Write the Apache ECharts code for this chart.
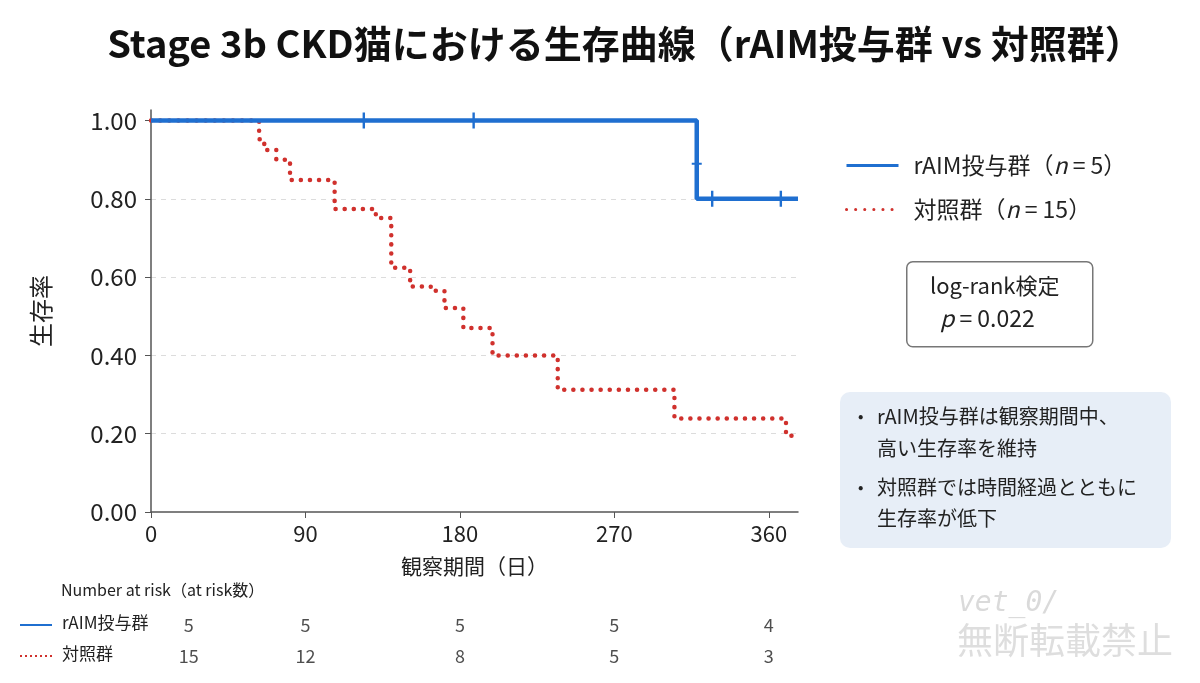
<!DOCTYPE html>
<html>
<head>
<meta charset="utf-8">
<script src="https://cdn.jsdelivr.net/npm/echarts@6/dist/echarts.min.js"></script>
<style>
  html, body { margin: 0; padding: 0; background: #fff; }
  #main { width: 1200px; height: 683px; }
</style>
</head>
<body>
<div id="main"></div>
<script>
// Kaplan-Meier curves (day, survival after that day)
var raimDays = [0, 318, 377];
var raimSurv = [1.0, 0.80, 0.80];
var raimCensorDays = [124, 188, 318, 327, 367];
var raimCensorSurv = [1.0, 1.0, 0.89, 0.80, 0.80];

var ctrlDays = [0, 63, 66, 73, 81, 107, 131, 140, 151, 163, 171, 182, 199, 237, 305, 370, 376];
var ctrlSurv = [1.0, 0.952, 0.925, 0.900, 0.848, 0.774, 0.751, 0.624, 0.576, 0.565, 0.521, 0.470, 0.400, 0.312, 0.239, 0.195, 0.195];

var xTicks = [0, 90, 180, 270, 360];
var yTicks = [0, 0.2, 0.4, 0.6, 0.8, 1.0];

// number at risk table
var riskGroups = ['rAIM投与群', '対照群'];
var riskColDays = [22, 90, 180, 270, 360];
var riskRaim = [5, 5, 5, 5, 4];
var riskCtrl = [15, 12, 8, 5, 3];

var BLUE = '#1f6fd0';
var RED = '#d0312d';
var FONT = '"Noto Sans CJK JP", "Noto Sans", sans-serif';

function pairs(xs, ys) {
    var out = [];
    for (var i = 0; i < xs.length; i++) out.push([xs[i], ys[i]]);
    return out;
}

var riskData = [];
for (var i = 0; i < riskColDays.length; i++) {
    riskData.push([riskColDays[i], riskGroups[0], riskRaim[i]]);
    riskData.push([riskColDays[i], riskGroups[1], riskCtrl[i]]);
}

// "+" censor mark, built as filled bars
var plusPath = 'path://M-1.2,-8 L1.2,-8 L1.2,8 L-1.2,8 Z M-5,-1 L5,-1 L5,1 L-5,1 Z';

var chart = echarts.init(document.getElementById('main'));
var option = {
    backgroundColor: '#fff',
    textStyle: { fontFamily: FONT },
    title: {
        text: 'Stage 3b CKD猫における生存曲線（rAIM投与群 vs 対照群）',
        left: 620,
        textAlign: 'center',
        top: 20,
        textStyle: { fontSize: 38, fontWeight: 'bold', color: '#111', fontFamily: FONT }
    },
    legend: {
        orient: 'vertical',
        left: 840,
        top: 149,
        itemWidth: 52,
        itemHeight: 12,
        itemGap: 21,
        itemStyle: { opacity: 0 },
        lineStyle: { width: 3 },
        data: ['rAIM投与群', '対照群'],
        formatter: function (name) {
            if (name === 'rAIM投与群') return '{a|rAIM投与群（}{i|n}{a| = 5）}';
            return '{a|対照群（}{i|n}{a| = 15）}';
        },
        textStyle: {
            padding: [0, 0, 0, 10],
            rich: {
                a: { fontSize: 23, color: '#222', fontFamily: FONT },
                i: { fontSize: 23, color: '#222', fontStyle: 'italic', fontFamily: FONT }
            }
        }
    },
    grid: [
        { left: 151, right: 402, top: 110, bottom: 171 },
        { left: 151, right: 402, top: 610, height: 62 }
    ],
    xAxis: [
        {
            type: 'value',
            gridIndex: 0,
            min: 0,
            max: 377,
            interval: 90,
            name: '観察期間（日）',
            nameLocation: 'middle',
            nameGap: 44,
            nameTextStyle: { fontSize: 21, color: '#222' },
            axisLine: { lineStyle: { color: '#555', width: 1.5 } },
            axisTick: { show: true, length: 6, lineStyle: { color: '#555' }, customValues: xTicks },
            axisLabel: { fontSize: 22, color: '#222', margin: 11, customValues: xTicks },
            splitLine: { show: false }
        },
        {
            type: 'value',
            gridIndex: 1,
            min: 0,
            max: 377,
            show: false
        }
    ],
    yAxis: [
        {
            type: 'value',
            gridIndex: 0,
            min: 0,
            max: 1.027,
            interval: 0.2,
            name: '生存率',
            nameLocation: 'middle',
            nameRotate: 90,
            nameGap: 98,
            nameTextStyle: { fontSize: 24, color: '#222' },
            axisLine: { show: true, lineStyle: { color: '#555', width: 1.5 } },
            axisTick: { show: true, length: 6, lineStyle: { color: '#555' }, customValues: yTicks },
            axisLabel: {
                fontSize: 24, color: '#222', margin: 14, customValues: yTicks,
                formatter: function (v) { return v.toFixed(2); }
            },
            splitLine: {
                show: true, showMinLine: false, showMaxLine: false,
                lineStyle: { color: '#dcdcdc', type: [5, 5], width: 1 }
            }
        },
        {
            type: 'category',
            gridIndex: 1,
            data: ['対照群', 'rAIM投与群'],
            show: false
        }
    ],
    series: [
        {
            name: '対照群',
            type: 'line',
            step: 'end',
            symbol: 'none',
            data: pairs(ctrlDays, ctrlSurv),
            lineStyle: { color: RED, width: 4.5, type: [0.1, 9], cap: 'round' },
            itemStyle: { color: RED },
            z: 3
        },
        {
            name: 'rAIM投与群',
            type: 'line',
            step: 'end',
            symbol: 'none',
            data: pairs(raimDays, raimSurv),
            lineStyle: { color: BLUE, width: 4.5 },
            itemStyle: { color: BLUE },
            clip: false,
            z: 4
        },
        {
            name: 'rAIM censor',
            type: 'scatter',
            symbol: plusPath,
            symbolSize: [10, 16],
            data: pairs(raimCensorDays, raimCensorSurv),
            itemStyle: { color: BLUE, opacity: 1 },
            silent: true,
            z: 5
        },
        {
            name: 'at risk',
            type: 'scatter',
            xAxisIndex: 1,
            yAxisIndex: 1,
            symbolSize: 0,
            data: riskData,
            silent: true,
            label: {
                show: true,
                position: 'inside',
                fontSize: 18,
                color: '#222',
                formatter: function (p) { return String(p.value[2]); }
            }
        }
    ],
    graphic: [
        // at-risk table heading and row keys
        { type: 'text', left: 61, top: 582, style: { text: 'Number at risk（at risk数）', fontSize: 16, fill: '#222', fontFamily: FONT } },
        { type: 'line', shape: { x1: 20, y1: 625, x2: 52, y2: 625 }, style: { stroke: BLUE, lineWidth: 2 } },
        { type: 'line', shape: { x1: 20, y1: 656, x2: 52, y2: 656 }, style: { stroke: RED, lineWidth: 2, lineDash: [2, 3] } },
        { type: 'text', left: 62, top: 614, style: { text: 'rAIM投与群', fontSize: 17, fill: '#222', fontFamily: FONT } },
        { type: 'text', left: 62, top: 645, style: { text: '対照群', fontSize: 17, fill: '#222', fontFamily: FONT } },

        // log-rank box
        {
            type: 'rect', left: 906, top: 261,
            shape: { width: 186, height: 85, r: 6 },
            style: { fill: '#fff', stroke: '#777', lineWidth: 1.5 }
        },
        { type: 'text', left: 930, top: 275, style: { text: 'log-rank検定', fontSize: 22, fill: '#222', fontFamily: FONT } },
        {
            type: 'text', left: 940, top: 307,
            style: {
                text: '{i|p}{a| = 0.022}',
                rich: {
                    i: { fontSize: 23, fill: '#222', fontStyle: 'italic', fontFamily: FONT },
                    a: { fontSize: 23, fill: '#222', fontFamily: FONT }
                }
            }
        },

        // summary box
        {
            type: 'rect', left: 840, top: 392,
            shape: { width: 331, height: 156, r: 10 },
            style: { fill: '#e7eef7' }
        },
        { type: 'text', left: 858, top: 408, style: { text: '•', fontSize: 16, fill: '#222', fontFamily: FONT } },
        { type: 'text', left: 877, top: 406, style: { text: 'rAIM投与群は観察期間中、', fontSize: 20, fill: '#222', fontFamily: FONT } },
        { type: 'text', left: 877, top: 438, style: { text: '高い生存率を維持', fontSize: 20, fill: '#222', fontFamily: FONT } },
        { type: 'text', left: 858, top: 479, style: { text: '•', fontSize: 16, fill: '#222', fontFamily: FONT } },
        { type: 'text', left: 877, top: 477, style: { text: '対照群では時間経過とともに', fontSize: 20, fill: '#222', fontFamily: FONT } },
        { type: 'text', left: 877, top: 508, style: { text: '生存率が低下', fontSize: 20, fill: '#222', fontFamily: FONT } },

        // watermark
        { type: 'text', left: 958, top: 590, style: { text: 'vet_0/', fontSize: 28, fontStyle: 'italic', fill: '#dadada', fontFamily: '"DejaVu Sans Mono", monospace' } },
        { type: 'text', left: 957, top: 622, style: { text: '無断転載禁止', fontSize: 36, fill: '#dedede', fontFamily: FONT } }
    ]
};
chart.setOption(option);

window.onresize = chart.resize;
</script>
</body>
</html>
